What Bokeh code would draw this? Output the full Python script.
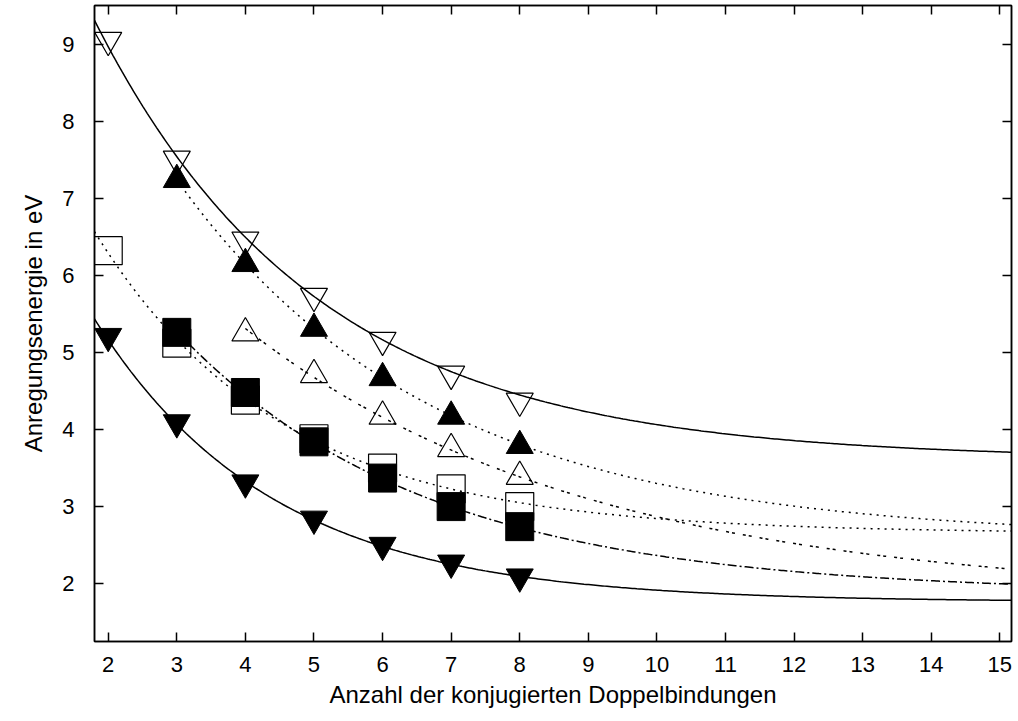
import numpy as np
from bokeh.plotting import figure
from bokeh.models import LinearAxis, Range1d, FixedTicker
from bokeh.embed import file_html
from bokeh.resources import INLINE

# ---- measured data points (x = number of conjugated double bonds, y = eV) ----
n_open_down = [2, 3, 4, 5, 6, 7, 8]
e_open_down = [9.05, 7.51, 6.46, 5.73, 5.16, 4.72, 4.37]

n_fill_up = [3, 4, 5, 6, 7, 8]
e_fill_up = [7.24, 6.15, 5.31, 4.67, 4.17, 3.79]

n_open_up = [4, 5, 6, 7, 8]
e_open_up = [5.25, 4.71, 4.17, 3.75, 3.39]

n_open_sq = [2, 3, 4, 5, 6, 7, 8]
e_open_sq = [6.32, 5.12, 4.38, 3.88, 3.50, 3.23, 3.00]

n_fill_sq = [3, 4, 5, 6, 7, 8]
e_fill_sq = [5.26, 4.48, 3.84, 3.37, 3.00, 2.74]

n_fill_down = [2, 3, 4, 5, 6, 7, 8]
e_fill_down = [5.21, 4.09, 3.31, 2.84, 2.50, 2.27, 2.09]

# ---- points ----
curve_a_x = [1.8, 2.99, 3.68, 5.0, 6.0, 7.0, 8.0, 9.48, 15.17]
curve_a_y = [9.27, 7.63, 6.79, 5.74, 5.11, 4.73, 4.43, 4.17, 3.72]

curve_b_x = [3.07, 3.48, 3.68, 4.63, 5.0, 6.0, 7.0, 8.0, 9.18, 9.48, 11.8, 15.17]
curve_b_y = [7.14, 6.68, 6.46, 5.58, 5.36, 4.68, 4.16, 3.77, 3.46, 3.42, 3.06, 2.76]

curve_c_x = [4.0, 4.63, 5.0, 5.31, 6.0, 6.66, 8.0, 9.18, 9.48, 11.8, 15.17]
curve_c_y = [5.30, 4.89, 4.69, 4.50, 4.18, 3.88, 3.36, 3.04, 3.00, 2.54, 2.20]

curve_d_x = [1.83, 2.16, 2.71, 3.19, 3.77, 4.2, 4.74, 5.79, 6.37, 7.0, 8.0, 9.18, 9.48, 11.8, 15.17]
curve_d_y = [6.49, 6.14, 5.43, 5.01, 4.56, 4.23, 3.94, 3.55, 3.40, 3.23, 3.07, 2.93, 2.91, 2.75, 2.64]

curve_e_x = [3.19, 3.77, 4.2, 4.74, 5.31, 6.18, 7.0, 8.0, 9.18, 11.8, 15.17]
curve_e_y = [5.08, 4.65, 4.30, 4.00, 3.66, 3.27, 2.98, 2.73, 2.49, 2.20, 1.98]

curve_f_x = [1.8, 2.35, 2.94, 3.77, 4.64, 5.0, 6.0, 7.0, 8.0, 9.18, 11.8, 15.17]
curve_f_y = [5.40, 4.78, 4.14, 3.45, 2.97, 2.80, 2.48, 2.26, 2.10, 2.00, 1.85, 1.76]

curve_starts = {"a": 1.8, "b": 3.0, "c": 4.0, "d": 1.8, "e": 3.0, "f": 1.8}

x_ticks = list(range(2, 16))
y_ticks = list(range(2, 10))
X_MIN, X_MAX = 1.8, 15.17
Y_MIN, Y_MAX = 1.25, 9.5


def fit_exp(xs, ys):
    xs = np.asarray(xs, float)
    ys = np.asarray(ys, float)
    best = None
    for c in np.linspace(0.02, 1.5, 1481):
        A = np.column_stack([np.ones_like(xs), np.exp(-c * xs)])
        coef, *_ = np.linalg.lstsq(A, ys, rcond=None)
        r = float(np.sum((A @ coef - ys) ** 2))
        if best is None or r < best[0]:
            best = (r, coef[0], coef[1], c)
    return best[1], best[2], best[3]


def curve(xs, ys, start):
    a, b, c = fit_exp(xs, ys)
    gx = np.linspace(start, X_MAX, 400)
    return gx, a + b * np.exp(-c * gx)


FONT = "Liberation Sans"

p = figure(width=1018, height=721,
           x_range=Range1d(X_MIN, X_MAX), y_range=Range1d(Y_MIN, Y_MAX),
           output_backend="svg", toolbar_location=None,
           min_border_left=94, min_border_right=7,
           min_border_top=5, min_border_bottom=80)
p.background_fill_color = "white"
p.border_fill_color = "white"
p.outline_line_color = "black"
p.outline_line_width = 1.5
p.xgrid.visible = False
p.ygrid.visible = False

for ax, ticks in ((p.xaxis[0], x_ticks), (p.yaxis[0], y_ticks)):
    ax.ticker = FixedTicker(ticks=ticks)
    ax.minor_tick_line_color = None
    ax.major_tick_in = 9
    ax.major_tick_out = 0
    ax.major_tick_line_width = 1.5
    ax.axis_line_width = 1.5
    ax.major_label_text_font = FONT
    ax.major_label_text_font_size = "22px"
    ax.major_label_text_color = "black"
    ax.axis_label_text_font = FONT
    ax.axis_label_text_font_size = "24px"
    ax.axis_label_text_font_style = "normal"
    ax.axis_label_text_color = "black"

p.xaxis.axis_label = "Anzahl der konjugierten Doppelbindungen"
p.yaxis.axis_label = "Anregungsenergie in eV"
p.xaxis.major_label_standoff = 15
p.xaxis.axis_label_standoff = 6
p.yaxis.major_label_standoff = 20
p.yaxis.axis_label_standoff = 12

for loc, ticks in (("above", x_ticks), ("right", y_ticks)):
    m = LinearAxis(ticker=FixedTicker(ticks=ticks), major_tick_in=9, major_tick_out=0,
                   major_tick_line_width=1.5, axis_line_width=1.5,
                   minor_tick_line_color=None, major_label_text_color=None,
                   major_label_text_font_size="1px", major_label_standoff=0)
    p.add_layout(m, loc)

# fitted curves
styles = {
    "a": dict(line_dash="solid"),
    "b": dict(line_dash="2 5"),
    "c": dict(line_dash="3 3 3 8"),
    "d": dict(line_dash="2 5"),
    "e": dict(line_dash="9 3 2 3"),
    "f": dict(line_dash="solid"),
}
data_curves = {
    "a": (curve_a_x, curve_a_y), "b": (curve_b_x, curve_b_y),
    "c": (curve_c_x, curve_c_y), "d": (curve_d_x, curve_d_y),
    "e": (curve_e_x, curve_e_y), "f": (curve_f_x, curve_f_y),
}
for key, (cx, cy) in data_curves.items():
    gx, gy = curve(cx, cy, curve_starts[key])
    p.line(gx, gy, line_color="black", line_width=1.5, **styles[key])

# open markers
p.scatter(n_open_down, e_open_down, marker="inverted_triangle", size=27,
          fill_color=None, line_color="black", line_width=1.2)
p.scatter(n_open_up, e_open_up, marker="triangle", size=27,
          fill_color=None, line_color="black", line_width=1.2)
p.scatter(n_open_sq, e_open_sq, marker="square", size=28,
          fill_color=None, line_color="black", line_width=1.2)
# filled markers
p.scatter(n_fill_up, e_fill_up, marker="triangle", size=27,
          fill_color="black", line_color="black", line_width=1)
p.scatter(n_fill_sq, e_fill_sq, marker="square", size=28,
          fill_color="black", line_color="black", line_width=1)
p.scatter(n_fill_down, e_fill_down, marker="inverted_triangle", size=27,
          fill_color="black", line_color="black", line_width=1)

open("out.html", "w").write(file_html(p, INLINE))
